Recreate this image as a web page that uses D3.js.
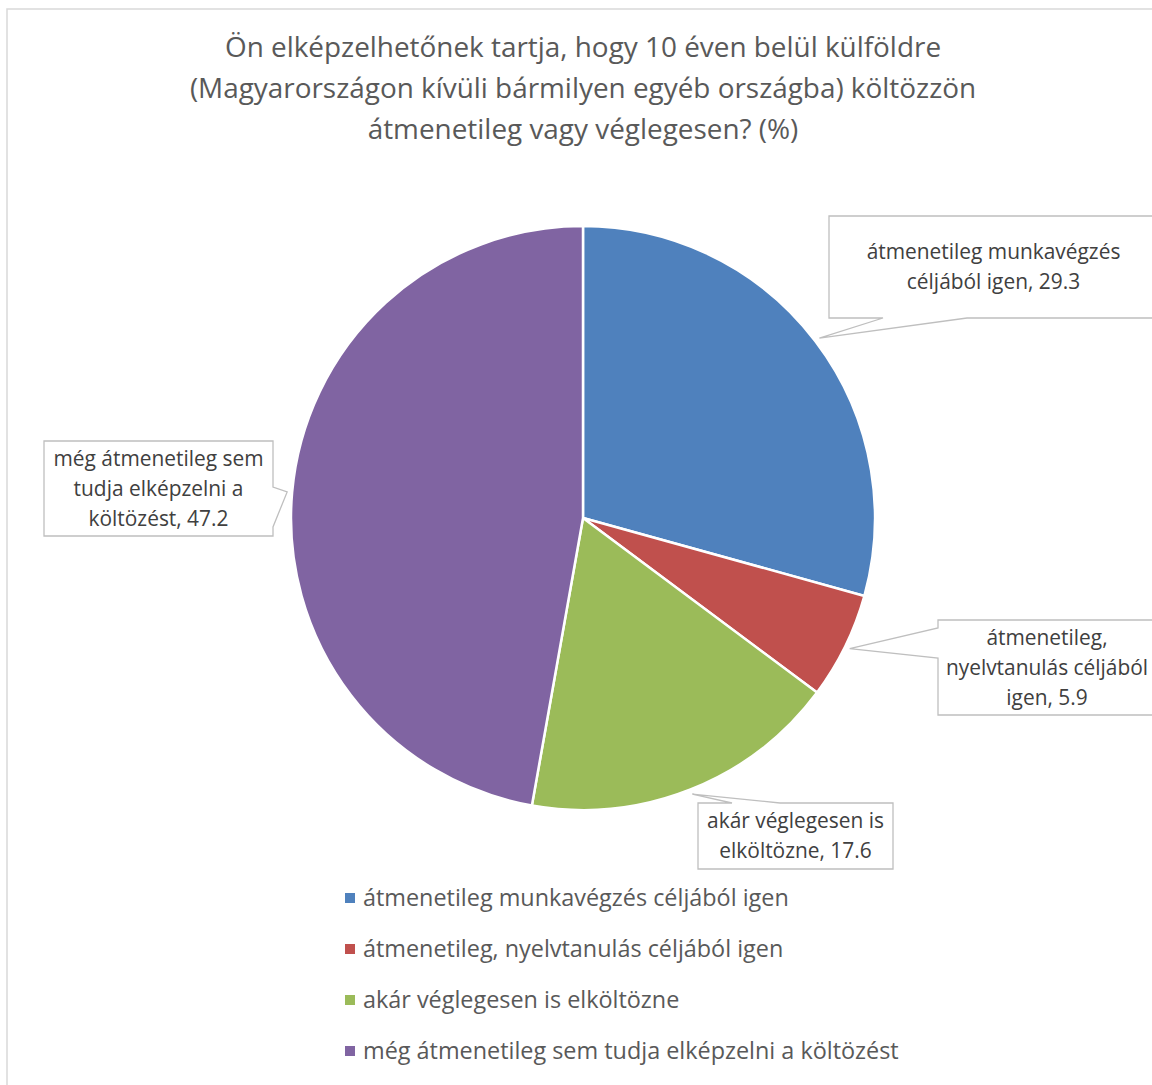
<!DOCTYPE html>
<html>
<head>
<meta charset="utf-8">
<script src="https://cdn.jsdelivr.net/npm/d3@7"></script>
<style>
  html, body { margin: 0; padding: 0; background: #fff; }
  svg { display: block; }
  text { font-family: "Open Sans", Lato, sans-serif; }
</style>
</head>
<body>
<svg id="chart" width="1152" height="1085"></svg>
<script>
// Survey answers, percent
const categories = [
  "átmenetileg munkavégzés céljából igen",
  "átmenetileg, nyelvtanulás céljából igen",
  "akár véglegesen is elköltözne",
  "még átmenetileg sem tudja elképzelni a költözést"
];
const values = [29.3, 5.9, 17.6, 47.2];
const colors = ["#4F81BD", "#C0504D", "#9BBB59", "#8064A2"];
// Data label text, line by line
const labelLines = [
  ["átmenetileg munkavégzés", "céljából igen, 29.3"],
  ["átmenetileg,", "nyelvtanulás céljából", "igen, 5.9"],
  ["akár véglegesen is", "elköltözne, 17.6"],
  ["még átmenetileg sem", "tudja elképzelni a", "költözést, 47.2"]
];
const titleLines = [
  "Ön elképzelhetőnek tartja, hogy 10 éven belül külföldre",
  "(Magyarországon kívüli bármilyen egyéb országba) költözzön",
  "átmenetileg vagy véglegesen? (%)"
];

const svg = d3.select("#chart");

// chart area frame
svg.append("rect")
  .attr("x", 7).attr("y", 9).attr("width", 1300).attr("height", 1200)
  .attr("fill", "none").attr("stroke", "#d9d9d9").attr("stroke-width", 1.5);

// title
svg.append("g").selectAll("text").data(titleLines).join("text")
  .attr("x", 583).attr("y", (d, i) => 57 + i * 41)
  .attr("text-anchor", "middle")
  .attr("font-size", 27.9)
  .attr("fill", "#595959")
  .text(d => d);

const cx = 583, cy = 518, R = 292;
const rows = categories.map((c, i) => ({ name: c, value: values[i], color: colors[i], lines: labelLines[i] }));

const pie = d3.pie().value(d => d.value).sort(null);
const arcs = pie(rows);
const arc = d3.arc().innerRadius(0).outerRadius(R);
const tipArc = d3.arc().innerRadius(R + 5).outerRadius(R + 5);

const g = svg.append("g").attr("transform", `translate(${cx},${cy})`);
g.selectAll("path").data(arcs).join("path")
  .attr("d", arc)
  .attr("fill", d => d.data.color)
  .attr("stroke", "#fff")
  .attr("stroke-width", 2.5)
  .attr("stroke-linejoin", "round");

// callout boxes: rectangle with a pointer wedge attached on one side
const boxes = [
  { x0: 829, y0: 216, x1: 1158, y1: 318, side: "bottom", a: 883, b: 967 },
  { x0: 938, y0: 620, x1: 1156, y1: 715, side: "left", a: 628, b: 658 },
  { x0: 698, y0: 803, x1: 893, y1: 869, side: "top", a: 732, b: 780 },
  { x0: 44, y0: 441, x1: 273, y1: 536, side: "right", a: 487, b: 527 }
];

function calloutPath(bx, tip) {
  const { x0, y0, x1, y1, side, a, b } = bx;
  const t = [tip[0] + cx, tip[1] + cy];
  let pts;
  if (side === "bottom") {
    pts = [[x0, y0], [x1, y0], [x1, y1], [b, y1], t, [a, y1], [x0, y1]];
  } else if (side === "left") {
    pts = [[x0, y0], [x1, y0], [x1, y1], [x0, y1], [x0, b], t, [x0, a]];
  } else if (side === "top") {
    pts = [[x0, y0], [a, y0], t, [b, y0], [x1, y0], [x1, y1], [x0, y1]];
  } else {
    pts = [[x0, y0], [x1, y0], [x1, a], t, [x1, b], [x1, y1], [x0, y1]];
  }
  return "M" + pts.map(p => p.join(",")).join("L") + "Z";
}

const labels = svg.append("g");
arcs.forEach((d, i) => {
  const bx = boxes[i];
  labels.append("path")
    .attr("d", calloutPath(bx, tipArc.centroid(d)))
    .attr("fill", "#fff")
    .attr("stroke", "#bfbfbf")
    .attr("stroke-width", 1.3);
  const mx = (bx.x0 + bx.x1) / 2;
  const n = d.data.lines.length;
  const my = (bx.y0 + bx.y1) / 2;
  labels.append("g").selectAll("text").data(d.data.lines).join("text")
    .attr("x", mx)
    .attr("y", (t, k) => my + (k - (n - 1) / 2) * 30 + 7)
    .attr("text-anchor", "middle")
    .attr("font-size", 20.9)
    .attr("fill", "#404040")
    .text(t => t);
});

// legend
const legend = svg.append("g");
const leg = legend.selectAll("g").data(rows).join("g")
  .attr("transform", (d, i) => `translate(345,${898 + i * 51})`);
leg.append("rect")
  .attr("x", 0).attr("y", -5).attr("width", 10).attr("height", 10)
  .attr("fill", d => d.color);
leg.append("text")
  .attr("x", 18).attr("y", 8)
  .attr("font-size", 23.4)
  .attr("fill", "#595959")
  .text(d => d.name);
</script>
</body>
</html>
